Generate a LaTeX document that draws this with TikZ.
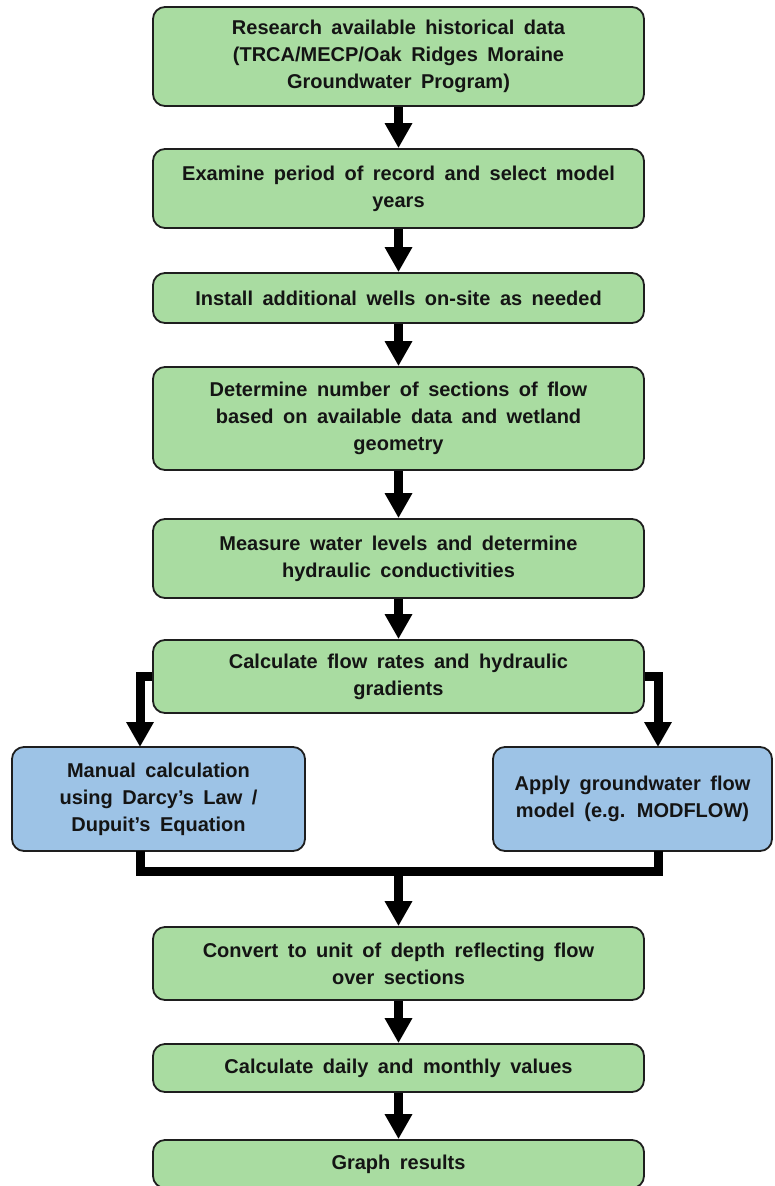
\documentclass[tikz,border=0pt]{standalone}
\usepackage{fontspec}
\setmainfont{Liberation Sans}
\usetikzlibrary{arrows.meta}
\definecolor{gfill}{HTML}{A9DCA1}
\definecolor{bfill}{HTML}{9DC3E6}
\definecolor{edge}{HTML}{1E1E1E}
\definecolor{ink}{HTML}{141414}
\newcommand\myboxfont{\fontsize{20pt}{27pt}\selectfont\bfseries\spaceskip=9.5pt plus 2pt\relax}
\tikzset{
  box/.style={draw=edge, line width=1.8pt, rounded corners=12pt, align=center,
    font=\myboxfont, text=ink, inner sep=0pt},
  gbox/.style={box, fill=gfill, minimum width=491pt},
  bbox/.style={box, fill=bfill},
  conn/.style={line width=9pt, draw=black, line join=miter},
  arr/.style={conn, -{Triangle[width=26pt,length=25pt]}}
}
\begin{document}
\begin{tikzpicture}[x=1pt,y=-1pt]
\fill[white] (0,0) rectangle (774,1186);
\useasboundingbox (0,0) rectangle (774,1186);

\node[gbox, minimum height=99pt] (b1) at (398.5,56.5) {Research available historical data\\(TRCA/MECP/Oak Ridges Moraine\\Groundwater Program)};
\node[gbox, minimum height=79pt] (b2) at (398.5,188.5) {Examine period of record and select model\\years};
\node[gbox, minimum height=50pt] (b3) at (398.5,298) {Install additional wells on-site as needed};
\node[gbox, minimum height=103pt] (b4) at (398.5,418.5) {Determine number of sections of flow\\based on available data and wetland\\geometry};
\node[gbox, minimum height=79pt] (b5) at (398.5,558.5) {Measure water levels and determine\\hydraulic conductivities};
\node[gbox, minimum height=73pt] (b6) at (398.5,676.5) {Calculate flow rates and hydraulic\\gradients};
\node[bbox, minimum width=293pt, minimum height=104pt] (L) at (158.5,799) {Manual calculation\\using Darcy’s Law /\\Dupuit’s Equation};
\node[bbox, minimum width=279pt, minimum height=104pt] (R) at (632.5,799) {Apply groundwater flow\\model (e.g. MODFLOW)};
\node[gbox, minimum height=73pt] (b7) at (398.5,963.5) {Convert to unit of depth reflecting flow\\over sections};
\node[gbox, minimum height=48pt] (b8) at (398.5,1068) {Calculate daily and monthly values};
\node[gbox, minimum height=48pt] (b9) at (398.5,1164) {Graph results};

\coordinate (Ltop) at (140,747);
\coordinate (Rtop) at (658,747);
\coordinate (Lbot) at (140,851);
\coordinate (Rbot) at (658,851);
\coordinate (mL) at (140,871);
\coordinate (mR) at (658,871);
\coordinate (mC) at (398.5,871);

\draw[arr] (b1.south) -- (b2.north);
\draw[arr] (b2.south) -- (b3.north);
\draw[arr] (b3.south) -- (b4.north);
\draw[arr] (b4.south) -- (b5.north);
\draw[arr] (b5.south) -- (b6.north);
\draw[arr] (b6.west) -| (Ltop);
\draw[arr] (b6.east) -| (Rtop);
\draw[conn] (Lbot) -- (mL) -- (mR) -- (Rbot);
\draw[arr] (mC) -- (b7.north);
\draw[arr] (b7.south) -- (b8.north);
\draw[arr] (b8.south) -- (b9.north);
\end{tikzpicture}
\end{document}
